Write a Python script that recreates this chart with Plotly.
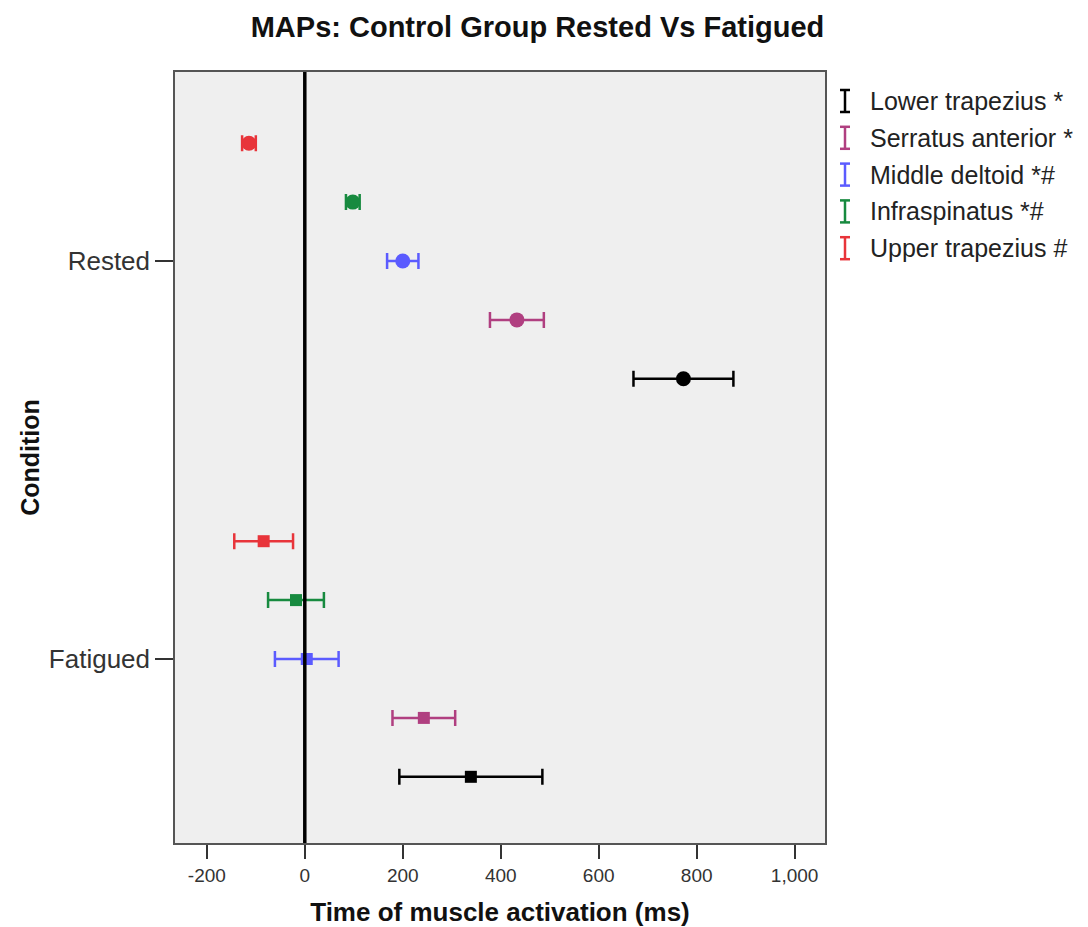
import plotly.graph_objects as go

conditions = ["Rested", "Fatigued"]
muscles = ["Upper trapezius #", "Infraspinatus *#", "Middle deltoid *#", "Serratus anterior *", "Lower trapezius *"]
colors = ["#e8343a", "#178a3f", "#5b5bff", "#b03f80", "#000000"]

rested_mean = [-114, 98, 200, 433, 773]
rested_err = [14, 14, 32, 55, 102]
fatigued_mean = [-84, -18, 4, 243, 339]
fatigued_err = [60, 57, 65, 64, 146]

legend_order = ["Lower trapezius *", "Serratus anterior *", "Middle deltoid *#", "Infraspinatus *#", "Upper trapezius #"]

FONT = "Liberation Sans, Arial, sans-serif"
spacing = 0.148

fig = go.Figure()
for k, name in enumerate(muscles):
    off = (k - 2) * spacing
    fig.add_trace(go.Scatter(
        x=[rested_mean[k]], y=[0 + off], mode="markers",
        marker=dict(symbol="circle", size=15, color=colors[k]),
        error_x=dict(type="data", array=[rested_err[k]], color=colors[k], thickness=2.5, width=8),
        showlegend=False, hoverinfo="skip"))
    fig.add_trace(go.Scatter(
        x=[fatigued_mean[k]], y=[1 + off], mode="markers",
        marker=dict(symbol="square", size=12, color=colors[k]),
        error_x=dict(type="data", array=[fatigued_err[k]], color=colors[k], thickness=2.5, width=8),
        showlegend=False, hoverinfo="skip"))

fig.add_shape(type="line", xref="x", yref="paper", x0=0, x1=0, y0=0, y1=1,
              line=dict(color="black", width=3.5))

# custom legend with I-beam icons
L, W, T, H = 175, 650, 72, 771
def px(xp):
    return (xp - L) / W
def py(yp):
    return (T + H - yp) / H
for i, name in enumerate(legend_order):
    col = colors[muscles.index(name)]
    yc = 101 + i * 36.8
    for (x0, y0, x1, y1) in [(845, yc - 11, 845, yc + 11), (840, yc - 11, 850, yc - 11), (840, yc + 11, 850, yc + 11)]:
        fig.add_shape(type="line", xref="paper", yref="paper", x0=px(x0), x1=px(x1), y0=py(y0), y1=py(y1),
                      line=dict(color=col, width=2.5))
    fig.add_annotation(xref="paper", yref="paper", x=px(868), y=py(yc), text=name, showarrow=False,
                       xanchor="left", yanchor="middle", font=dict(family=FONT, size=25, color="#222"))

fig.update_layout(
    width=1088, height=927,
    margin=dict(l=175, r=263, t=72, b=84, autoexpand=False),
    paper_bgcolor="white", plot_bgcolor="#efefef",
    title=dict(text="<b>MAPs: Control Group Rested Vs Fatigued</b>", x=(253 + 822) / 2 / 1088, xanchor="center",
               y=1 - 27 / 927, yanchor="middle", font=dict(family=FONT, size=29, color="#111")),
    font=dict(family=FONT),
)
fig.update_xaxes(range=[-265, 1062], tickvals=[-200, 0, 200, 400, 600, 800, 1000],
                 ticktext=["-200", "0", "200", "400", "600", "800", "1,000"],
                 showgrid=False, zeroline=False, showline=True, linecolor="#555", linewidth=1.5, mirror=True,
                 ticks="outside", ticklen=14, tickwidth=1.5, tickcolor="#333", automargin=False,
                 tickfont=dict(family=FONT, size=19, color="#333"),
                 title=dict(text="<b>Time of muscle activation (ms)</b>", font=dict(family=FONT, size=26, color="#111"), standoff=20))
fig.update_yaxes(range=[1.4623, -0.4749], tickvals=[0, 1], ticktext=conditions,
                 showgrid=False, zeroline=False, showline=True, linecolor="#555", linewidth=1.5, mirror=True,
                 ticks="outside", ticklen=18, tickwidth=1.5, tickcolor="#333", automargin=False,
                 tickfont=dict(family=FONT, size=26, color="#333"),
                 title=dict(text="<b>Condition</b>", font=dict(family=FONT, size=25, color="#111"), standoff=2))

fig.write_html("out.html")
